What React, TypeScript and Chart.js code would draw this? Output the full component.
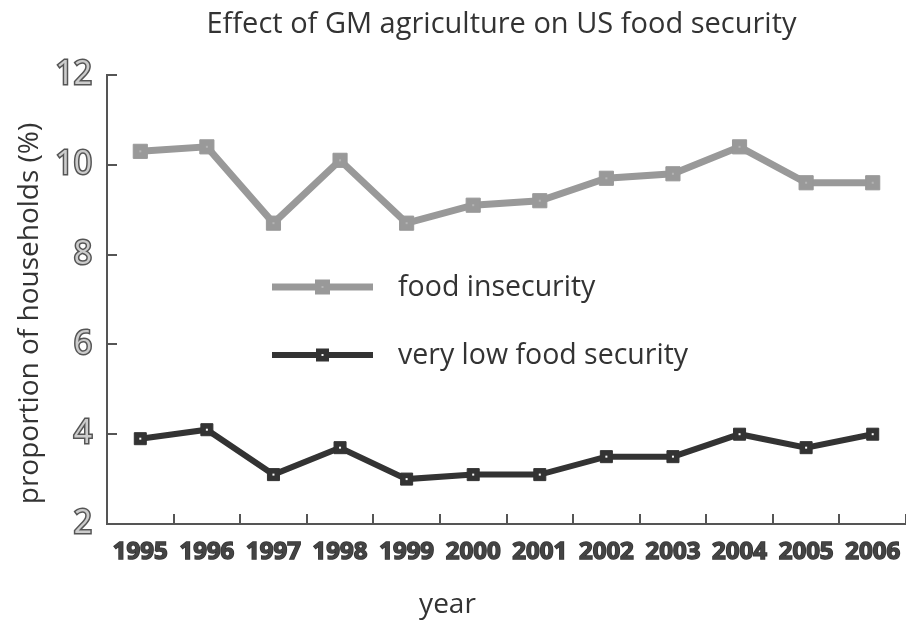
import React, { useEffect, useRef } from 'react';
import { Chart, registerables } from 'chart.js';

Chart.register(...registerables);

const years = ['1995', '1996', '1997', '1998', '1999', '2000', '2001', '2002', '2003', '2004', '2005', '2006'];
const foodInsecurity = [10.3, 10.4, 8.7, 10.1, 8.7, 9.1, 9.2, 9.7, 9.8, 10.4, 9.6, 9.6];
const veryLowFoodSecurity = [3.9, 4.1, 3.1, 3.7, 3.0, 3.1, 3.1, 3.5, 3.5, 4.0, 3.7, 4.0];
const yMin = 2;
const yMax = 12;
const yStep = 2;
const chartTitle = 'Effect of GM agriculture on US food security';
const xAxisTitle = 'year';
const yAxisTitle = 'proportion of households (%)';
const seriesLabels = ['food insecurity', 'very low food security'];

const FONT = "'Open Sans', 'Noto Sans', sans-serif";

const centerDots = {
  id: 'centerDots',
  afterDatasetsDraw(chart: any) {
    const ctx = chart.ctx;
    const dotColors = ['#b4b4b4', '#ffffff'];
    chart.data.datasets.forEach((_: any, i: number) => {
      const meta = chart.getDatasetMeta(i);
      ctx.save();
      ctx.fillStyle = dotColors[i];
      meta.data.forEach((pt: any) => {
        ctx.fillRect(pt.x - 1, pt.y - 1, 2, 2);
      });
      ctx.restore();
    });
  },
};

const customLegend = {
  id: 'customLegend',
  afterDraw(chart: any) {
    const ctx = chart.ctx;
    const area = chart.chartArea;
    chart.data.datasets.forEach((ds: any, i: number) => {
      const y = area.top + 212 + i * 68;
      const x0 = area.left + 165;
      const x1 = area.left + 266;
      ctx.save();
      ctx.strokeStyle = ds.borderColor;
      ctx.lineWidth = ds.borderWidth;
      ctx.beginPath();
      ctx.moveTo(x0, y);
      ctx.lineTo(x1, y);
      ctx.stroke();
      const side = i === 0 ? 15 : 13;
      const cx = (x0 + x1) / 2;
      ctx.fillStyle = ds.pointBackgroundColor;
      ctx.fillRect(cx - side / 2, y - side / 2, side, side);
      ctx.fillStyle = i === 0 ? '#b4b4b4' : '#ffffff';
      ctx.fillRect(cx - 1, y - 1, 2, 2);
      ctx.fillStyle = '#333333';
      ctx.font = `28.5px ${FONT}`;
      ctx.textBaseline = 'middle';
      ctx.textAlign = 'left';
      ctx.fillText(ds.label, area.left + 291, y + 1);
      ctx.restore();
    });
  },
};

const titles = {
  id: 'titles',
  afterDraw(chart: any) {
    const ctx = chart.ctx;
    const area = chart.chartArea;
    ctx.save();
    ctx.fillStyle = '#333333';
    ctx.textAlign = 'center';
    ctx.textBaseline = 'middle';
    ctx.font = `29px ${FONT}`;
    ctx.fillText(chartTitle, (area.left + area.right) / 2 - 5, area.top - 50);
    ctx.font = `28px ${FONT}`;
    ctx.fillText(xAxisTitle, (area.left + area.right) / 2 - 59, area.bottom + 81);
    ctx.translate(30, (area.top + area.bottom) / 2 + 14);
    ctx.rotate(-Math.PI / 2);
    ctx.fillText(yAxisTitle, 0, 0);
    ctx.restore();
  },
};

export default function App() {
  const canvasRef = useRef<HTMLCanvasElement | null>(null);

  useEffect(() => {
    if (!canvasRef.current) return;
    const chart = new Chart(canvasRef.current, {
      type: 'line',
      data: {
        labels: years,
        datasets: [
          {
            label: seriesLabels[0],
            data: foodInsecurity,
            borderColor: '#999999',
            borderWidth: 7,
            pointStyle: 'rect',
            pointRadius: 10,
            pointBackgroundColor: '#999999',
            pointBorderColor: '#999999',
            pointBorderWidth: 1,
            tension: 0,
            clip: false,
          },
          {
            label: seriesLabels[1],
            data: veryLowFoodSecurity,
            borderColor: '#333333',
            borderWidth: 6,
            pointStyle: 'rect',
            pointRadius: 8.5,
            pointBackgroundColor: '#333333',
            pointBorderColor: '#333333',
            pointBorderWidth: 1,
            tension: 0,
            clip: false,
          },
        ],
      },
      options: {
        responsive: false,
        animation: false,
        layout: { padding: { top: 75, left: 0, right: 0, bottom: 0 }, autoPadding: false },
        plugins: {
          legend: { display: false },
          tooltip: { enabled: false },
          title: { display: false },
        },
        scales: {
          x: {
            type: 'category',
            offset: true,
            grid: {
              offset: true,
              drawOnChartArea: false,
              tickLength: -10,
              color: '#555555',
              lineWidth: 2,
            },
            border: { color: '#555555', width: 2 },
            ticks: {
              autoSkip: false,
              maxRotation: 0,
              color: '#444444',
              textStrokeColor: '#333333',
              textStrokeWidth: 1.5,
              padding: 24,
              font: { family: FONT, size: 24, weight: 'bold' },
            },
            afterFit(scale: any) {
              scale.height = 96;
              scale.paddingLeft = 0;
              scale.paddingRight = 0;
            },
          },
          y: {
            min: yMin,
            max: yMax,
            grid: {
              drawOnChartArea: false,
              tickLength: -10,
              color: '#555555',
              lineWidth: 2,
            },
            border: { color: '#555555', width: 2 },
            ticks: {
              stepSize: yStep,
              color: '#cccccc',
              textStrokeColor: '#555555',
              textStrokeWidth: 3,
              padding: 25,
              font: { family: FONT, size: 32, weight: 'normal' },
            },
            afterFit(scale: any) {
              scale.width = 107;
              scale.paddingTop = 0;
              scale.paddingBottom = 0;
            },
          },
        },
      },
      plugins: [centerDots, customLegend, titles],
    });
    return () => chart.destroy();
  }, []);

  return (
    <div style={{ position: 'fixed', left: 0, top: 0, width: 906, height: 620, background: '#ffffff' }}>
      <canvas ref={canvasRef} width={906} height={620} />
    </div>
  );
}
